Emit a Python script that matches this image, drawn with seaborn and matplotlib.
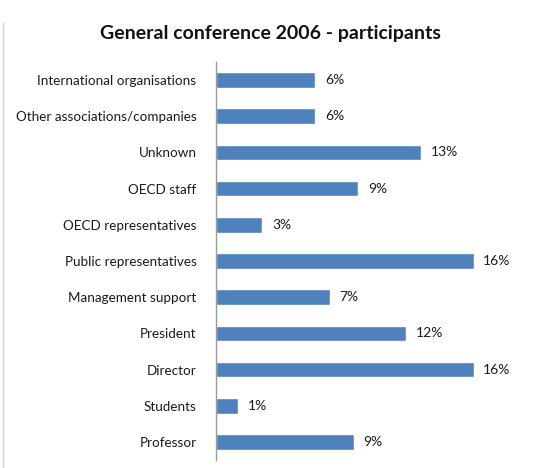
import pandas as pd
import matplotlib.pyplot as plt
import seaborn as sns
from matplotlib.lines import Line2D

# data (percentages)
categories = ['International organisations', 'Other associations/companies', 'Unknown',
              'OECD staff', 'OECD representatives', 'Public representatives',
              'Management support', 'President', 'Director', 'Students', 'Professor']
shares = [6.2, 6.2, 12.8, 8.9, 2.9, 16.1, 7.1, 11.9, 16.1, 1.4, 8.6]

df = pd.DataFrame({'category': categories, 'share': shares})

sns.set_style('white')
plt.rcParams['font.family'] = ['Lato', 'DejaVu Sans']

fig = plt.figure(figsize=(5.34, 4.68), dpi=100)
ax = fig.add_axes([216 / 534, 1 - 460 / 468, 288 / 534, 398 / 468])

sns.barplot(data=df, x='share', y='category', orient='h', color='#4F81BD',
            width=0.43, saturation=1, ax=ax)

for i, v in enumerate(shares):
    ax.text(v + 0.6, i, f'{v:.0f}%', va='center', ha='left', fontsize=10, color='#1a1a1a')

ax.set_xlim(0, 18)
ax.set_xlabel('')
ax.set_ylabel('')
ax.set_xticks([])
ax.tick_params(axis='y', length=0, pad=14, labelsize=9.7, labelcolor='#1a1a1a')
for s in ['top', 'right', 'bottom']:
    ax.spines[s].set_visible(False)
ax.spines['left'].set_color('#999999')
ax.spines['left'].set_linewidth(1)

fig.text(270 / 534, 1 - 33 / 468, 'General conference 2006 - participants',
         ha='center', va='center', fontsize=14, fontweight='bold', color='#111111')

# faint chart border on the left edge
fig.add_artist(Line2D([0.005, 0.005], [0.0, 0.95], transform=fig.transFigure,
                      color='#d0d0d0', linewidth=1))

fig.savefig('out.png', dpi=100)
